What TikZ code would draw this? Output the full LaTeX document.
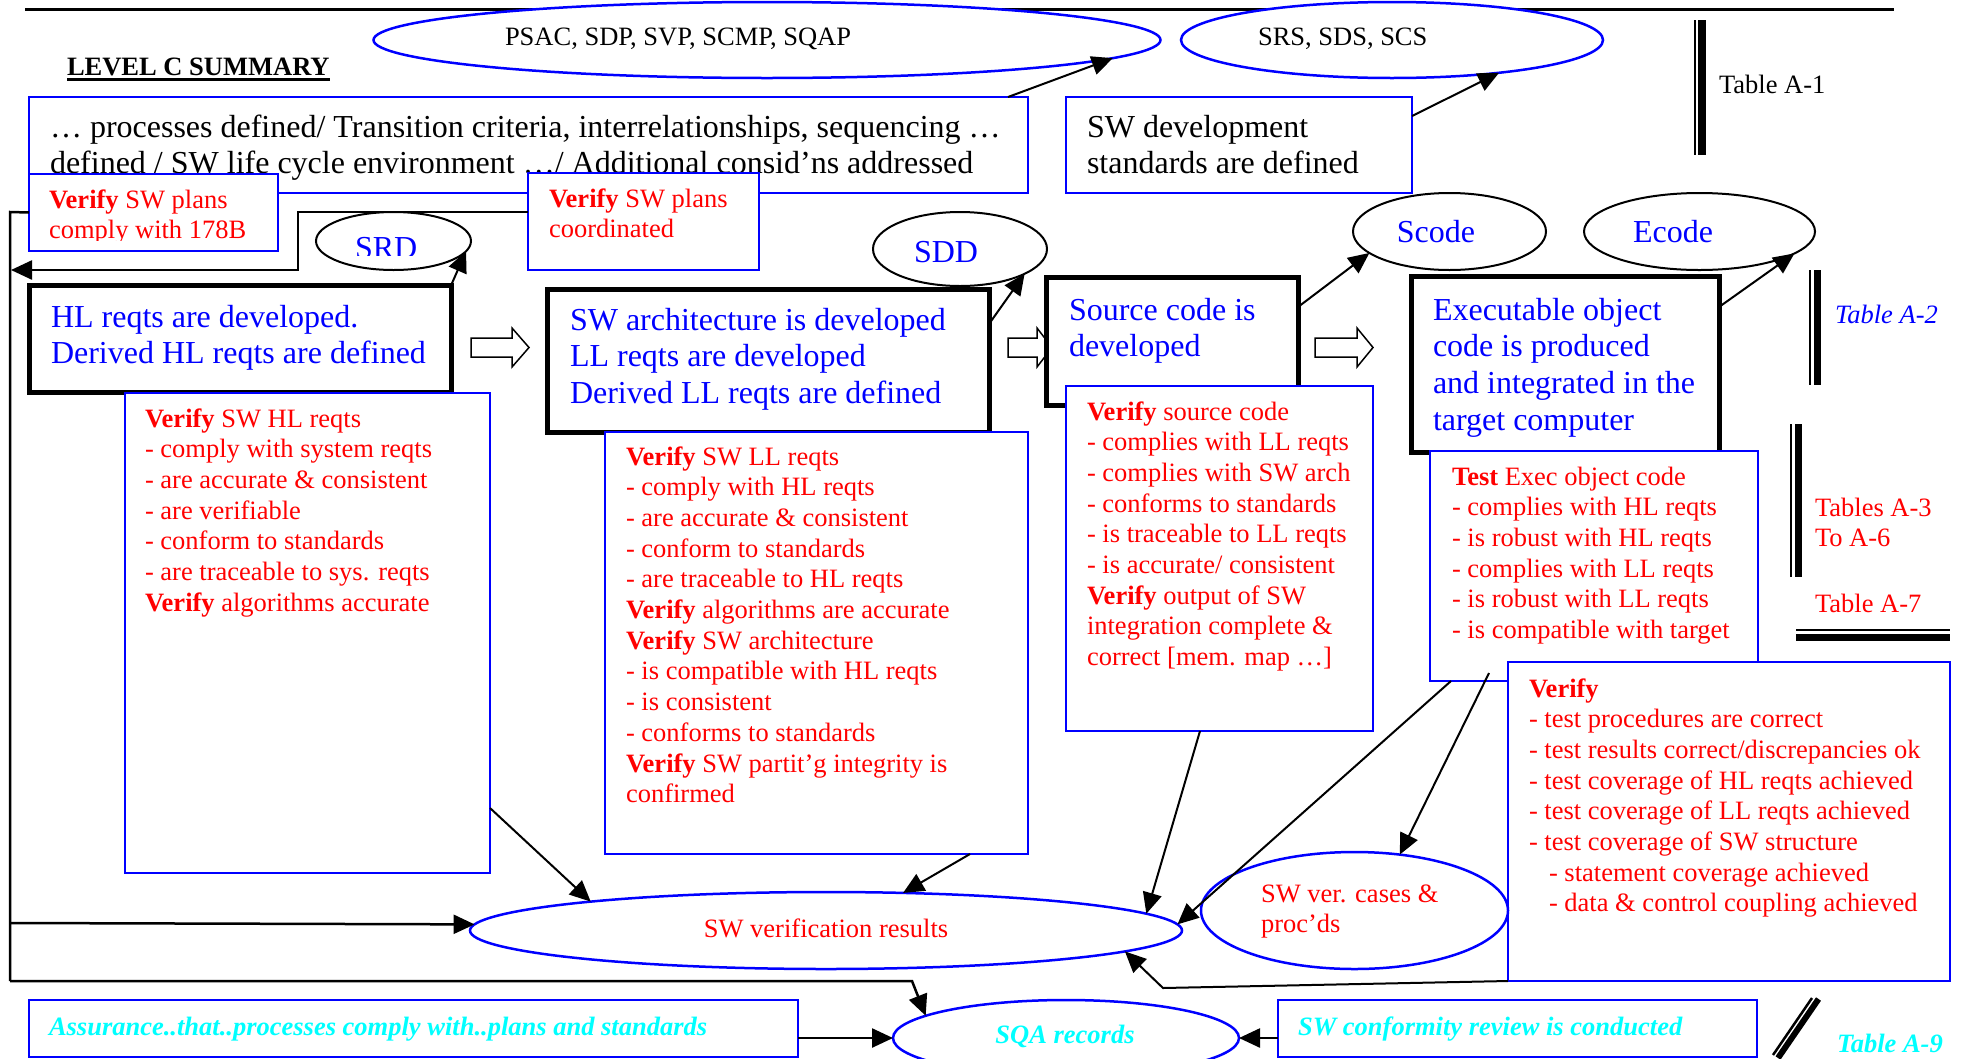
\documentclass[tikz,border=0pt]{standalone}
\usepackage{fontspec}
\setmainfont{Liberation Serif}
\usetikzlibrary{shapes.geometric, arrows.meta, calc, fit}

\definecolor{dblue}{RGB}{0,0,255}
\definecolor{dred}{RGB}{255,0,0}
\definecolor{dcyan}{RGB}{0,255,255}

% multi-line text whose reference point is the first baseline
\newcommand{\ml}[1]{\begin{tabular}[t]{@{}l@{}}#1\end{tabular}}
\newcommand{\fbig}{\fontsize{32}{36.7}\selectfont}
\newcommand{\fbigt}{\fontsize{32}{36}\selectfont}
\newcommand{\fsml}{\fontsize{26.5}{30.7}\selectfont}
\newcommand{\vf}{\textbf{Verify}}
% hollow block arrow between process boxes
\newcommand{\blockarrow}[3]{%
  \draw[line width=1.5pt, fill=white] (#1,338) -- (#2,338) -- (#2,328) -- (#3,347.5)
    -- (#2,367) -- (#2,357) -- (#1,357) -- cycle;}

\begin{document}
\begin{tikzpicture}[x=1pt, y=-1pt,
  txt/.style={anchor=base west, inner sep=0pt, outer sep=0pt},
  ctxt/.style={anchor=base, inner sep=0pt, outer sep=0pt},
  bluebox/.style={draw=dblue, line width=2.5pt, fill=white, inner sep=0pt, outer sep=0pt},
  procbox/.style={draw=black, line width=5pt, fill=white, inner sep=0pt, outer sep=0pt},
  blueell/.style={ellipse, draw=dblue, line width=2.5pt, fill=white, inner sep=0pt, outer sep=0pt},
  blkell/.style={ellipse, draw=black, line width=2pt, fill=white, inner sep=0pt, outer sep=0pt},
  arr/.style={-{Triangle[length=21pt, width=19pt]}, line width=2pt},
  busline/.style={line width=2.5pt},
  redtxt/.style={txt, font=\fsml, text=dred},
  bluetxt/.style={txt, font=\fbig, text=dblue},
  cyantxt/.style={txt, font=\fsml\bfseries\itshape, text=dcyan}]

\useasboundingbox (0,0) rectangle (1964,1058);
\fill[white] (0,0) rectangle (1964,1058);

% ---------- plans row ----------
\draw[line width=3pt] (25,9) -- (1894,9);
\node[blueell, minimum width=787pt, minimum height=76pt] (psac) at (767,40) {};
\node[blueell, minimum width=422pt, minimum height=76pt] (srs) at (1392,40) {};
\node[txt, font=\fsml] (psacL) at (505,45) {PSAC, SDP, SVP, SCMP, SQAP};
\node[txt, font=\fsml] (srsL) at (1258,45) {SRS, SDS, SCS};

\node[txt, font=\fsml\bfseries] (title) at (67,75) {LEVEL C SUMMARY};
\draw[line width=2.5pt] ($(title.base west)+(0,4.5)$) -- ($(title.base east)+(0,4.5)$);

\node[bluebox, fit={(29,97) (1028,193)}] (procs) {};
\node[txt, font=\fbigt] (procsL) at (50,137) {\ml{… processes defined/ Transition criteria, interrelationships, sequencing …\\
  defined / SW life cycle environment  …/ Additional consid’ns addressed}};
\node[bluebox, fit={(1066,97) (1412,193)}] (swdev) {};
\node[txt, font=\fbigt] (swdevL) at (1087,137) {\ml{SW development\\standards are defined}};

\draw[arr] ($(procs.north east)+(-20,0)$) -- (psac.-3);
\draw[arr] ($(swdev.north east)+(0,19)$) -- (srs.-17);

% Table A-1 marker
\draw[line width=2pt] (1694.5,20) -- (1694.5,155);
\draw[line width=7.5pt] (1702,20) -- (1702,155);
\node[txt, font=\fsml] (tA1) at (1719,93) {Table A-1};

% ---------- plan verification boxes ----------
\node[bluebox, fit={(29,174) (278,251)}] (comply) {};
\begin{scope}
  \clip (29,174) rectangle (278,240);
  \node[redtxt] (complyL) at (49,208) {\ml{\vf{} SW plans\\comply with 178B}};
\end{scope}
\node[bluebox, fit={(528,173) (759,270)}] (coord) {};
\node[redtxt] (coordL) at (549,207) {\ml{\vf{} SW plans\\coordinated}};

% ---------- data items ----------
\node[blkell, minimum width=155pt, minimum height=58pt] (srd) at (393.5,241) {};
\begin{scope}
  \clip (316,212) rectangle (471,255);
  \node[txt, font=\fbig, text=dblue] (srdL) at (355,258) {SRD};
\end{scope}
\node[blkell, minimum width=174pt, minimum height=74pt] (sdd) at (960,249) {};
\node[ctxt, font=\fbig, text=dblue] (sddL) at (946,262) {SDD};
\node[blkell, minimum width=193pt, minimum height=77pt] (scode) at (1449.5,231.5) {};
\node[ctxt, font=\fbig, text=dblue] (scodeL) at (1436,242) {Scode};
\node[blkell, minimum width=231pt, minimum height=77pt] (ecode) at (1699.5,231.5) {};
\node[ctxt, font=\fbig, text=dblue] (ecodeL) at (1673,242) {Ecode};

% ---------- development processes ----------
\node[procbox, fit={(29,285.5) (451,392.5)}] (hl) {};
\node[bluetxt] (hlL) at (51,327) {\ml{HL reqts are developed.\\Derived HL reqts are defined}};
\blockarrow{471}{512}{529}
\node[procbox, fit={(547,289) (989,432)}] (arch) {};
\node[bluetxt] (archL) at (570,330) {\ml{SW architecture is developed\\LL reqts are developed\\Derived LL reqts are defined}};
\blockarrow{1008}{1037}{1052}
\node[procbox, fit={(1046,277) (1298,405)}] (src) {};
\node[bluetxt] (srcL) at (1069,320) {\ml{Source code is\\developed}};
\blockarrow{1315}{1357}{1373}
\node[procbox, fit={(1411,276) (1719,452)}] (exec) {};
\node[bluetxt] (execL) at (1433,320) {\ml{Executable object\\code is produced\\and integrated in the\\target computer}};

\draw[arr] (hl.north east) -- (srd.-8);
\draw[arr] ($(arch.north east)+(0,35)$) -- (sdd.-21);
\draw[arr] ($(src.north east)+(0,30)$) -- (scode.195);
\draw[arr] ($(exec.north east)+(0,31)$) -- (ecode.-13);

% Table A-2 marker
\draw[line width=2pt] (1810,270) -- (1810,385);
\draw[line width=7pt] (1817.5,270) -- (1817.5,385);
\node[txt, font=\fsml\itshape, text=dblue] (tA2) at (1835,323) {Table A-2};

% ---------- verification boxes ----------
\node[bluebox, fit={(125,393) (490,873)}] (vhl) {};
\node[redtxt] (vhlL) at (145,427) {\ml{\vf{} SW HL reqts\\
  - comply with system reqts\\
  - are accurate \& consistent\\
  - are verifiable\\
  - conform to standards\\
  - are traceable to sys. reqts\\
  \vf{} algorithms accurate}};

\node[bluebox, fit={(605,432) (1028,854)}] (vll) {};
\node[redtxt] (vllL) at (626,465) {\ml{\vf{} SW LL reqts\\
  - comply with HL reqts\\
  - are accurate \& consistent\\
  - conform to standards\\
  - are traceable to HL reqts\\
  \vf{} algorithms are accurate\\
  \vf{} SW architecture\\
  - is compatible with HL reqts\\
  - is consistent\\
  - conforms to standards\\
  \vf{} SW partit’g integrity is\\
  confirmed}};

\node[bluebox, fit={(1066,386) (1373,731)}] (vsrc) {};
\node[redtxt] (vsrcL) at (1087,420) {\ml{\vf{} source code\\
  - complies with LL reqts\\
  - complies with SW arch\\
  - conforms to standards\\
  - is traceable to LL reqts\\
  - is accurate/ consistent\\
  \vf{} output of SW\\
  integration complete \&\\
  correct [mem. map …]}};

\node[bluebox, fit={(1430,451) (1758,681)}] (vexe) {};
\node[redtxt] (vexeL) at (1452,485) {\ml{\textbf{Test} Exec object code\\
  - complies with HL reqts\\
  - is robust with HL reqts\\
  - complies with LL reqts\\
  - is robust with LL reqts\\
  - is compatible with target}};

\node[bluebox, fit={(1508,662) (1950,981)}] (vbig) {};
\node[redtxt] (vbigL) at (1529,697) {\ml{\vf\\
  - test procedures are correct\\
  - test results correct/discrepancies ok\\
  - test coverage of HL reqts achieved\\
  - test coverage of LL reqts achieved\\
  - test coverage of SW structure\\
  \hspace*{20pt}- statement coverage achieved\\
  \hspace*{20pt}- data \& control coupling achieved}};

% Tables A-3 to A-7 markers
\draw[line width=2pt] (1791,424) -- (1791,577);
\draw[line width=7pt] (1798.5,424) -- (1798.5,577);
\node[redtxt] (tA3) at (1815,516) {\ml{Tables A-3\\To A-6}};
\node[redtxt] (tA7) at (1815,612) {Table A-7};
\draw[line width=2pt] (1796,630) -- (1950,630);
\draw[line width=7pt] (1796,637.5) -- (1950,637.5);

% ---------- results and records ----------
\node[blueell, minimum width=712pt, minimum height=77pt] (svr) at (826,930.5) {};
\node[ctxt, font=\fsml, text=dred] (svrL) at (826,937) {SW verification results};
\node[blueell, minimum width=307pt, minimum height=117pt] (cases) at (1354.5,910.5) {};
\node[redtxt] (casesL) at (1261,902) {\ml{SW ver. cases \&\\proc’ds}};
\node[blueell, minimum width=346pt, minimum height=76pt] (sqa) at (1066,1038) {};
\node[ctxt, font=\fsml\bfseries\itshape, text=dcyan] (sqaL) at (1065,1043) {SQA records};

\node[bluebox, fit={(29,1000) (798,1057)}] (assur) {};
\node[cyantxt] (assurL) at (49,1035) {Assurance..that..processes comply with..plans and standards};
\node[bluebox, fit={(1278,1000) (1757,1057)}] (conf) {};
\node[cyantxt] (confL) at (1298,1035) {SW conformity review is conducted};

% Table A-9 marker
\draw[line width=2.5pt] (1812,998) -- (1773,1055);
\draw[line width=6pt] (1818.5,999) -- (1778,1058);
\node[cyantxt] (tA9) at (1837,1052) {Table A-9};

% ---------- feedback bus on the left ----------
\coordinate (busTop) at (10,212);
\coordinate (busSvr) at (10,923);
\coordinate (busBot) at (10,981);
\coordinate (busBend) at (912,981);
\coordinate (coordA) at (298,212);
\coordinate (coordB) at (298,270);
\coordinate (busIn) at (11,270);
\draw[busline] (comply.west) -- (busTop) -- (busBot);
\draw[arr, busline] (busBot) -- (busBend) -- (sqa.171);
\draw[arr, busline] (busSvr) -- (svr.179);
\draw[arr, busline] ($(coord.north west)+(0,39)$) -- (coordA) -- (coordB) -- (busIn);

% ---------- verification results flow ----------
\coordinate (bendV) at (1163,988);
\draw[arr] ($(vhl.north east)+(0,415)$) -- (svr.173);
\draw[arr] ($(vll.south west)+(365,0)$) -- (svr.26);
\draw[arr] ($(vsrc.south west)+(134,0)$) -- (svr.3);
\draw[arr] ($(vexe.south west)+(21,0)$) -- (svr.1);
\draw[arr] ($(vexe.south west)+(59,-8)$) -- (cases.51);
\draw[arr] (vbig.south west) -- (bendV) -- (svr.-4);
\draw[arr, busline] ($(assur.south east)+(0,-19)$) -- (sqa.west);
\draw[arr, busline] ($(conf.south west)+(0,-19)$) -- (sqa.east);

\end{tikzpicture}
\end{document}
